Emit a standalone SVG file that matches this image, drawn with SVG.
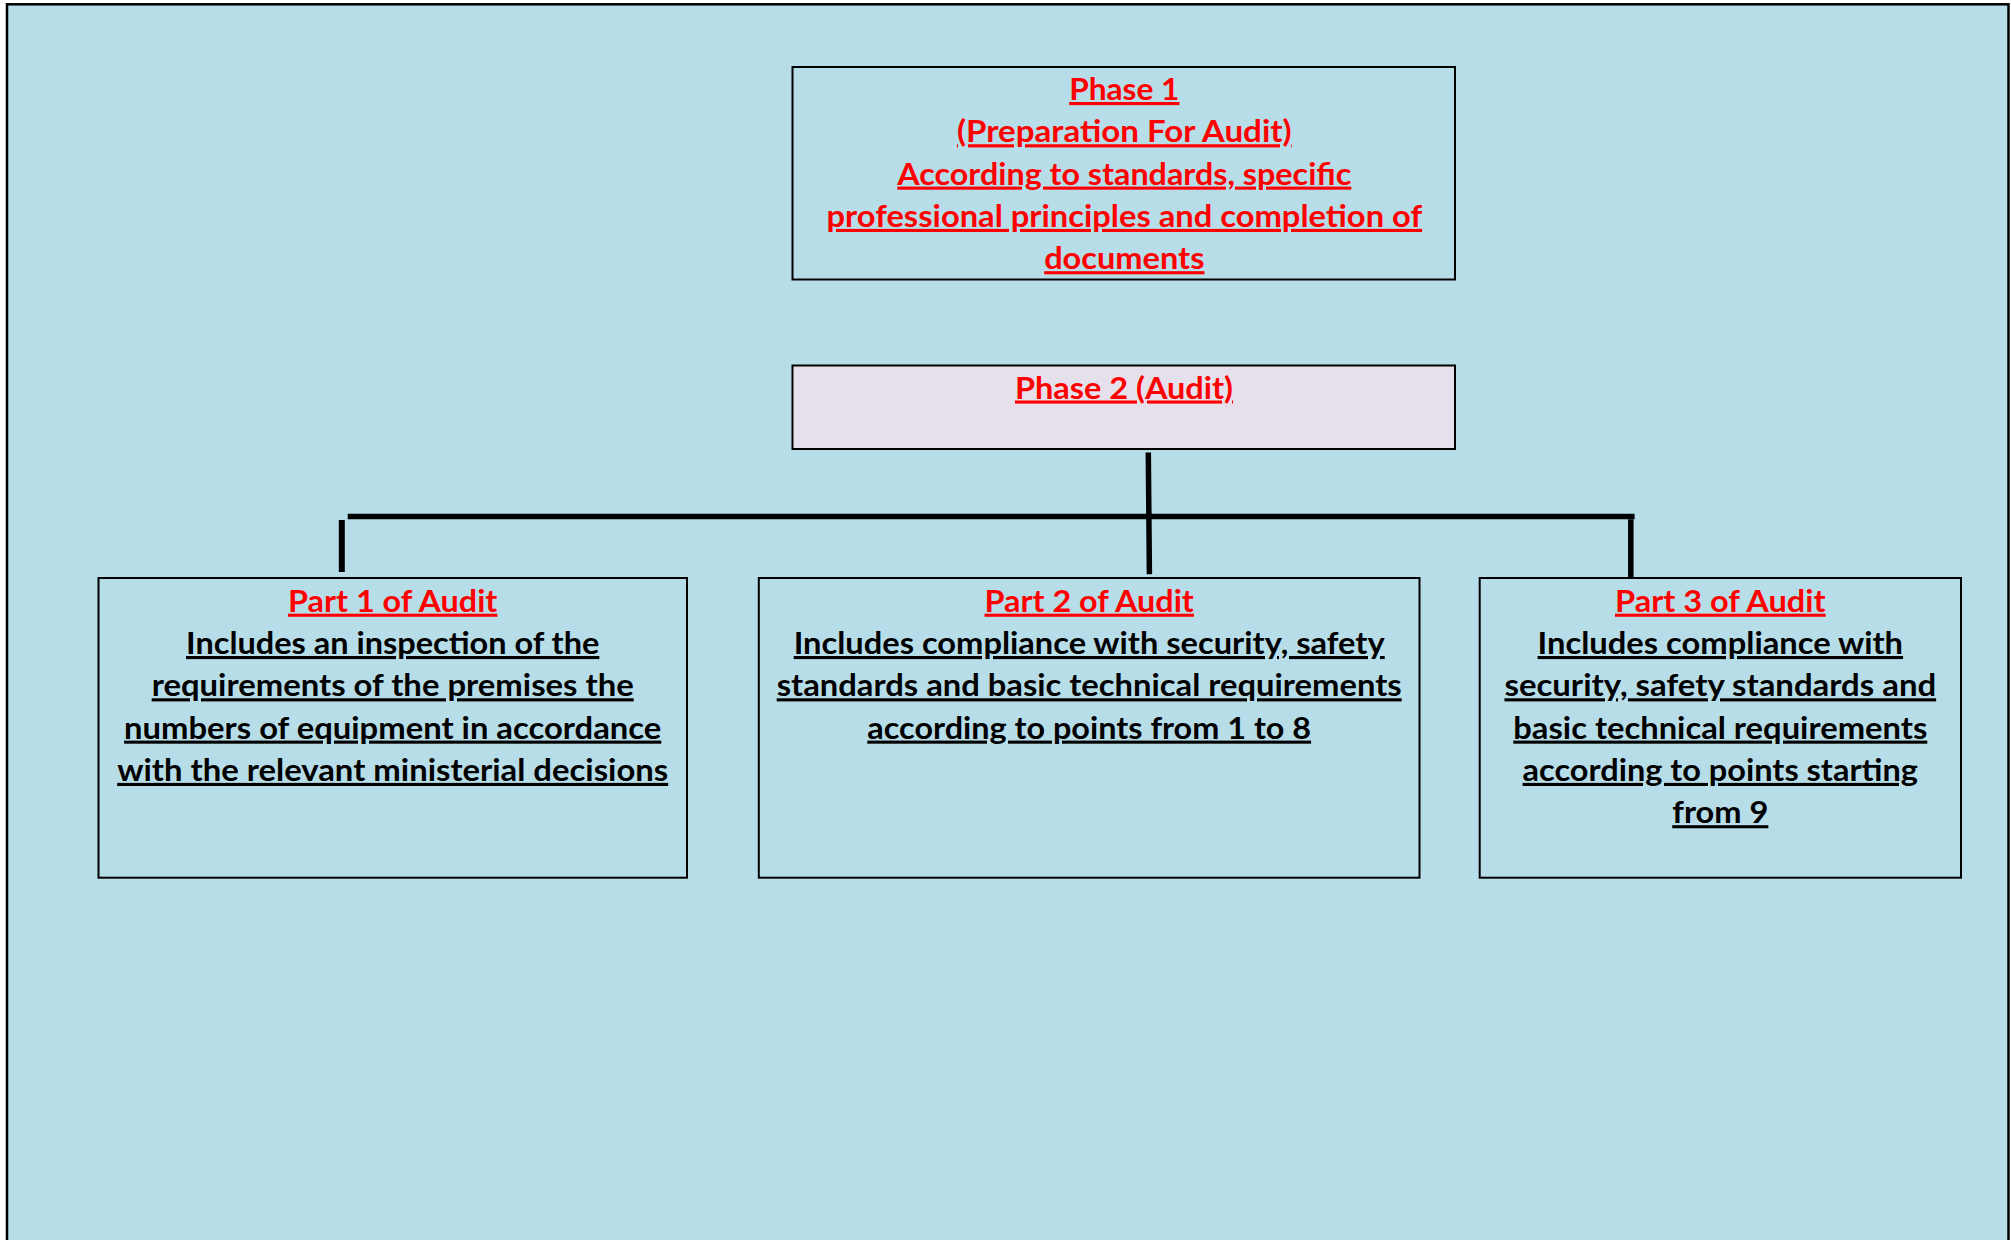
<svg xmlns="http://www.w3.org/2000/svg" width="2011" height="1240" viewBox="0 0 2011 1240">
<style>
.box{fill:#B7DDE8;stroke:#000;stroke-width:2}
.box2{fill:#E6E0EC;stroke:#000;stroke-width:2}
text{font-family:Lato,"Open Sans","Liberation Sans",sans-serif;font-weight:700;font-size:31px;text-anchor:middle;text-decoration:underline;text-decoration-thickness:2.7px;text-underline-offset:3.4px}
.r{fill:#FF0000}
.k{fill:#000}
.conn line{stroke:#000;stroke-width:5.5;stroke-linecap:butt}
</style>
<rect x="0" y="0" width="2011" height="1240" fill="#FFFFFF"/>
<rect id="page" x="7" y="4.3" width="2001.5" height="1250" fill="#B7DDE8" stroke="#000" stroke-width="2.5"/>
<g id="phase1">
<rect class="box" x="792.5" y="67" width="662.5" height="212.5"/>
<text class="r" x="1124.3" y="100" textLength="110.3" lengthAdjust="spacingAndGlyphs">Phase 1</text>
<text class="r" x="1124.3" y="142.3" textLength="334.8" lengthAdjust="spacingAndGlyphs">(Preparation For Audit)</text>
<text class="r" x="1124.3" y="184.6" textLength="454" lengthAdjust="spacingAndGlyphs">According to standards, specific</text>
<text class="r" x="1124.3" y="226.9" textLength="595.6" lengthAdjust="spacingAndGlyphs">professional principles and completion of</text>
<text class="r" x="1124.3" y="269.2" textLength="160.3" lengthAdjust="spacingAndGlyphs">documents</text>
</g>
<g id="phase2">
<rect class="box2" x="792.5" y="365.5" width="662.5" height="83.5"/>
<text class="r" x="1124" y="398.5" textLength="218" lengthAdjust="spacingAndGlyphs">Phase 2 (Audit)</text>
</g>
<g id="connectors" class="conn">
<line x1="1148.3" y1="452.5" x2="1149.4" y2="574.3"/>
<line x1="347.7" y1="516.5" x2="1634.6" y2="516.5"/>
<line x1="341.8" y1="520" x2="341.8" y2="572" style="stroke-width:6"/>
<line x1="1630.8" y1="519.3" x2="1630.8" y2="579"/>
</g>
<g id="part1">
<rect class="box" x="98.5" y="578" width="588.5" height="299.7"/>
<text class="r" x="392.7" y="611.7" textLength="209.4" lengthAdjust="spacingAndGlyphs">Part 1 of Audit</text>
<text class="k" x="392.7" y="654" textLength="413.3" lengthAdjust="spacingAndGlyphs">Includes an inspection of the</text>
<text class="k" x="392.7" y="696.3" textLength="482.1" lengthAdjust="spacingAndGlyphs">requirements of the premises the</text>
<text class="k" x="392.7" y="738.6" textLength="537.2" lengthAdjust="spacingAndGlyphs">numbers of equipment in accordance</text>
<text class="k" x="392.7" y="780.9" textLength="551" lengthAdjust="spacingAndGlyphs">with the relevant ministerial decisions</text>
</g>
<g id="part2">
<rect class="box" x="758.8" y="578" width="660.7" height="299.7"/>
<text class="r" x="1089.2" y="611.7" textLength="209.4" lengthAdjust="spacingAndGlyphs">Part 2 of Audit</text>
<text class="k" x="1089.2" y="654" textLength="591" lengthAdjust="spacingAndGlyphs">Includes compliance with security, safety</text>
<text class="k" x="1089.2" y="696.3" textLength="625" lengthAdjust="spacingAndGlyphs">standards and basic technical requirements</text>
<text class="k" x="1089.2" y="738.6" textLength="443.8" lengthAdjust="spacingAndGlyphs">according to points from 1 to 8</text>
</g>
<g id="part3">
<rect class="box" x="1479.7" y="578" width="481.3" height="299.7"/>
<text class="r" x="1720.3" y="611.7" textLength="210.6" lengthAdjust="spacingAndGlyphs">Part 3 of Audit</text>
<text class="k" x="1720.3" y="654" textLength="365.5" lengthAdjust="spacingAndGlyphs">Includes compliance with</text>
<text class="k" x="1720.3" y="696.3" textLength="431.7" lengthAdjust="spacingAndGlyphs">security, safety standards and</text>
<text class="k" x="1720.3" y="738.6" textLength="414" lengthAdjust="spacingAndGlyphs">basic technical requirements</text>
<text class="k" x="1720.3" y="780.9" textLength="395.4" lengthAdjust="spacingAndGlyphs">according to points starting</text>
<text class="k" x="1720.3" y="823.2" textLength="96.1" lengthAdjust="spacingAndGlyphs">from 9</text>
</g>
</svg>
